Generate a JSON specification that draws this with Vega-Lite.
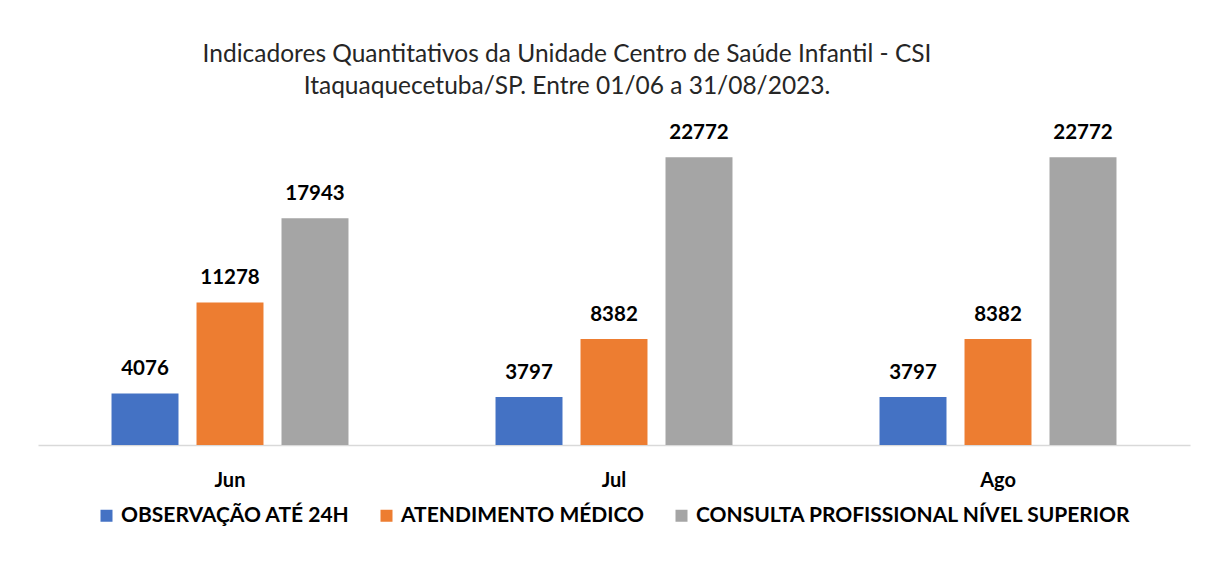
{
  "$schema": "https://vega.github.io/schema/vega-lite/v6.json",
  "width": 1152,
  "height": 316,
  "autosize": "none",
  "padding": {"left": 38, "top": 129, "right": 15, "bottom": 119},
  "background": "white",
  "title": {
    "text": ["Indicadores Quantitativos da Unidade Centro de Saúde Infantil - CSI", "Itaquaquecetuba/SP. Entre 01/06 a 31/08/2023."],
    "anchor": "middle",
    "dx": -47,
    "offset": 24,
    "font": "Lato",
    "fontSize": 24.5,
    "fontWeight": "normal",
    "lineHeight": 32,
    "color": "#262626"
  },
  "data": {
    "values": [
      {"mes": "Jun", "serie": "OBSERVAÇÃO ATÉ 24H", "valor": 4076},
      {"mes": "Jun", "serie": "ATENDIMENTO MÉDICO", "valor": 11278},
      {"mes": "Jun", "serie": "CONSULTA PROFISSIONAL NÍVEL SUPERIOR", "valor": 17943},
      {"mes": "Jul", "serie": "OBSERVAÇÃO ATÉ 24H", "valor": 3797},
      {"mes": "Jul", "serie": "ATENDIMENTO MÉDICO", "valor": 8382},
      {"mes": "Jul", "serie": "CONSULTA PROFISSIONAL NÍVEL SUPERIOR", "valor": 22772},
      {"mes": "Ago", "serie": "OBSERVAÇÃO ATÉ 24H", "valor": 3797},
      {"mes": "Ago", "serie": "ATENDIMENTO MÉDICO", "valor": 8382},
      {"mes": "Ago", "serie": "CONSULTA PROFISSIONAL NÍVEL SUPERIOR", "valor": 22772}
    ]
  },
  "encoding": {
    "x": {
      "field": "mes", "type": "nominal", "sort": ["Jun", "Jul", "Ago"],
      "scale": {"paddingInner": 0, "paddingOuter": 0},
      "axis": {
        "title": null, "labelAngle": 0, "ticks": false, "domainColor": "#D9D9D9", "domainWidth": 1.5,
        "labelFont": "Lato", "labelFontSize": 20, "labelFontWeight": "bold", "labelColor": "#000000",
        "labelPadding": 25, "grid": false
      }
    },
    "xOffset": {
      "field": "serie", "type": "nominal",
      "sort": ["OBSERVAÇÃO ATÉ 24H", "ATENDIMENTO MÉDICO", "CONSULTA PROFISSIONAL NÍVEL SUPERIOR"],
      "scale": {"paddingInner": 0.212, "paddingOuter": 0.865}
    },
    "y": {
      "field": "valor", "type": "quantitative",
      "scale": {"domain": [0, 25000], "nice": false},
      "axis": null
    }
  },
  "layer": [
    {
      "mark": {"type": "bar"},
      "encoding": {
        "color": {
          "field": "serie", "type": "nominal",
          "sort": ["OBSERVAÇÃO ATÉ 24H", "ATENDIMENTO MÉDICO", "CONSULTA PROFISSIONAL NÍVEL SUPERIOR"],
          "scale": {
            "domain": ["OBSERVAÇÃO ATÉ 24H", "ATENDIMENTO MÉDICO", "CONSULTA PROFISSIONAL NÍVEL SUPERIOR"],
            "range": ["#4472C4", "#ED7D31", "#A5A5A5"]
          },
          "legend": {
            "title": null, "orient": "none", "direction": "horizontal",
            "legendX": 58, "legendY": 376,
            "symbolType": "square", "symbolSize": 144, "symbolStrokeWidth": 0,
            "labelFont": "Lato", "labelFontSize": 21, "labelFontWeight": "bold", "labelColor": "#000000",
            "labelOffset": 4, "columnPadding": 26, "labelLimit": 600
          }
        }
      }
    },
    {
      "mark": {"type": "text", "baseline": "bottom", "dy": -14, "font": "Lato", "fontSize": 20.5, "fontWeight": "bold", "color": "#000000"},
      "encoding": {
        "text": {"field": "valor", "type": "quantitative", "format": "d"}
      }
    }
  ],
  "config": {"view": {"stroke": null}}
}
